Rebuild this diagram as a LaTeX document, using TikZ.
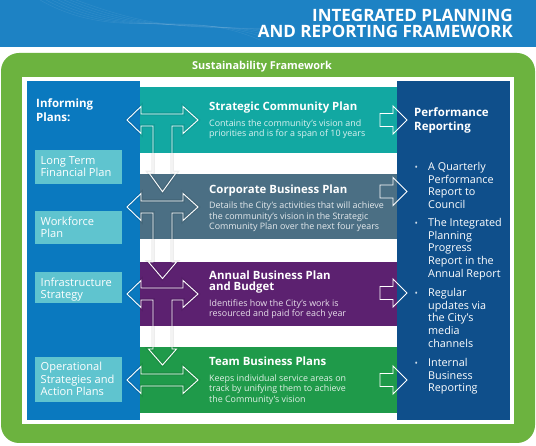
\documentclass[tikz,border=0pt]{standalone}
\usepackage{fontspec}
\setmainfont{Open Sans}
\definecolor{hdr}{HTML}{1D82C4}
\definecolor{frame}{HTML}{6CB33F}
\definecolor{lcol}{HTML}{0A79BF}
\definecolor{rcol}{HTML}{0F4F8B}
\definecolor{bteal}{HTML}{12A8A2}
\definecolor{bslate}{HTML}{4B6F84}
\definecolor{bpurp}{HTML}{5C2170}
\definecolor{bgreen}{HTML}{1F9A4A}
\definecolor{ibox}{HTML}{5FC4CF}
\tikzset{
  txt/.style={anchor=base west, inner sep=0pt, text=white},
  ttl/.style={txt, font=\bfseries\fontsize{11.4}{13}\selectfont},
  dsc/.style={txt, font=\fontsize{8.9}{11}\selectfont, text opacity=0.85},
  itxt/.style={txt, font=\fontsize{11.1}{13}\selectfont},
  btxt/.style={txt, font=\fontsize{10.8}{13}\selectfont},
  arr/.style={draw=white, line width=0.9pt, line join=miter},
  arrsh/.style={draw=black, draw opacity=0.07, line width=3.5pt, line join=miter},
  hdrtxt/.style={anchor=base east, inner sep=0pt, text=white, font=\bfseries\fontsize{17}{15}\selectfont},
}
\newcommand\tarrowpath[3]{(127,#1) -- (141,#1-13.5) -- (141,#1-6) -- (183,#1-6) -- (183,#1-13.5) -- (198,#1) -- (183,#1+13.5) -- (183,#1+6) -- (172,#1+6) -- (172,#2) -- (176.5,#2) -- (162.5,#3) -- (148.5,#2) -- (153,#2) -- (153,#1+6) -- (141,#1+6) -- (141,#1+13.5) -- cycle}
\newcommand\darrowpath[1]{(127,#1) -- (141,#1-13.5) -- (141,#1-6) -- (183,#1-6) -- (183,#1-13.5) -- (198,#1) -- (183,#1+13.5) -- (183,#1+6) -- (141,#1+6) -- (141,#1+13.5) -- cycle}
\newcommand\rarrowpath[1]{(380,#1-6.5) -- (393,#1-6.5) -- (393,#1-14) -- (407,#1) -- (393,#1+14) -- (393,#1+6.5) -- (380,#1+6.5) -- cycle}
\begin{document}
\begin{tikzpicture}[x=1pt,y=-1pt]
\useasboundingbox (0,0) rectangle (536,446);
\fill[white] (0,0) rectangle (536,446);
% header
\fill[hdr] (0,0) rectangle (536,47);
\foreach \k in {0,...,6}{
  \draw[white, opacity=0.07, line width=0.6pt] (40+\k*6,0) .. controls (120+\k*5,45-\k*3) and (180,5+\k*4) .. (260+\k*6,40-\k*2);
}
\node[hdrtxt] (h1) at (513,21.5) {INTEGRATED PLANNING};
\node[hdrtxt] (h2) at (513,37.6) {AND REPORTING FRAMEWORK};
% green frame
\fill[frame, rounded corners=18pt] (1,53) rectangle (535,443);
\node[anchor=base, inner sep=0pt, text=white, font=\bfseries\fontsize{10.9}{13}\selectfont] (sf) at (262,70) {Sustainability Framework};
\fill[white] (22,77) rectangle (514,424);
% columns
\fill[lcol] (27,81) rectangle (140,420);
\fill[rcol] (397,81) rectangle (510,420);
% bands
\fill[bteal] (140,87) rectangle (397,153);
\fill[bslate] (140,174) rectangle (397,239);
\fill[bpurp] (140,262) rectangle (397,326);
\fill[bgreen] (140,347) rectangle (397,413);
% informing boxes
\fill[ibox] (35,150) rectangle (122,184);
\fill[ibox] (35,211) rectangle (122,244);
\fill[ibox] (35,272) rectangle (122,303);
\fill[ibox] (35,357) rectangle (122,402);
% left texts
\node[txt, font=\bfseries\fontsize{11.5}{13}\selectfont] (ip1) at (36,107.7) {Informing};
\node[txt, font=\bfseries\fontsize{11.5}{13}\selectfont] (ip2) at (36,121.2) {Plans:};
\node[itxt] (lt1) at (40.5,164.3) {Long Term};
\node[itxt] (lt2) at (40.5,176.7) {Financial Plan};
\node[itxt] (wf1) at (40.5,225.7) {Workforce};
\node[itxt] (wf2) at (40.5,237.5) {Plan};
\node[itxt] (is1) at (40.5,286.7) {Infrastructure};
\node[itxt] (is2) at (40.5,298.5) {Strategy};
\node[itxt] (os1) at (40.5,370.7) {Operational};
\node[itxt] (os2) at (40.5,383.3) {Strategies and};
\node[itxt] (os3) at (40.5,396) {Action Plans};
% band texts
\node[ttl] (t1) at (209,110.7) {Strategic Community Plan};
\node[dsc] (d11) at (209,126.7) {Contains the community’s vision and};
\node[dsc] (d12) at (209,137) {priorities and is for a span of 10 years};
\node[ttl] (t2) at (209,193.3) {Corporate Business Plan};
\node[dsc] (d21) at (209,208.3) {Details the City’s activities that will achieve};
\node[dsc] (d22) at (209,219.2) {the community’s vision in the Strategic};
\node[dsc] (d23) at (209,230) {Community Plan over the next four years};
\node[ttl] (t3) at (209,279.3) {Annual Business Plan};
\node[ttl] (t3b) at (209,291) {and Budget};
\node[dsc] (d31) at (209,306.7) {Identifies how the City’s work is};
\node[dsc] (d32) at (209,317) {resourced and paid for each year};
\node[ttl] (t4) at (209,365.7) {Team Business Plans};
\node[dsc] (d41) at (209,381.7) {Keeps individual service areas on};
\node[dsc] (d42) at (209,392) {track by unifying them to achieve};
\node[dsc] (d43) at (209,402.3) {the Community’s vision};
% right texts
\node[txt, font=\bfseries\fontsize{11.5}{13}\selectfont] (pr1) at (414,116.7) {Performance};
\node[txt, font=\bfseries\fontsize{11.5}{13}\selectfont] (pr2) at (414,130.7) {Reporting};
\foreach \y/\t [count=\i] in {171/A Quarterly, 183.5/Performance, 196/Report to, 208.5/Council,
  226.7/The Integrated, 239.3/Planning, 252/Progress, 265/Report in the, 278/Annual Report,
  296.7/Regular, 309.3/updates via, 322/the City’s, 334.8/media, 347.3/channels,
  366.7/Internal, 379.3/Business, 391.7/Reporting}{
  \node[btxt] (rb\i) at (428,\y) {\t};
}
\foreach \y [count=\i] in {171,226.7,296.7,366.7}{
  \node[txt, text=white!80!rcol, font=\fontsize{9}{11}\selectfont] (bul\i) at (414.5,\y-0.5) {•};
}
% arrows: shadows
\draw[arrsh] \tarrowpath{120}{172.3}{191.7};
\draw[arrsh] \tarrowpath{207}{262}{278.5};
\draw[arrsh] \tarrowpath{294}{349}{365};
\draw[arrsh] \darrowpath{380};
% arrows
\draw[arr] \tarrowpath{120}{172.3}{191.7};
\draw[arr] \tarrowpath{207}{262}{278.5};
\draw[arr] \tarrowpath{294}{349}{365};
\draw[arr] \darrowpath{380};
\draw[arr] \rarrowpath{120};
\draw[arr] \rarrowpath{191.5};
\draw[arr] \rarrowpath{293};
\draw[arr] \rarrowpath{380};
\end{tikzpicture}
\end{document}
